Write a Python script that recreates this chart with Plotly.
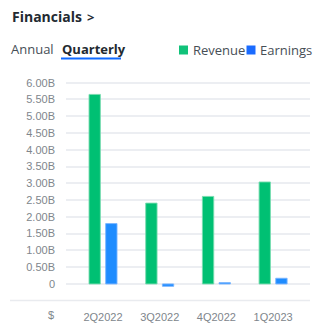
import plotly.graph_objects as go

quarters = ["2Q2022", "3Q2022", "4Q2022", "1Q2023"]
revenue_b = [5.65, 2.41, 2.61, 3.04]
earnings_b = [1.80, -0.07, 0.04, 0.17]
tick_vals = [0, 0.5, 1, 1.5, 2, 2.5, 3, 3.5, 4, 4.5, 5, 5.5, 6]
tick_text = ["0", "0.50B", "1.00B", "1.50B", "2.00B", "2.50B", "3.00B",
             "3.50B", "4.00B", "4.50B", "5.00B", "5.50B", "6.00B"]

GREEN = "#00c073"
BLUE = "#1e8cff"
LEG_GREEN = "#11c27a"
LEG_BLUE = "#1a6bff"

W, H = 323, 327
L, R, T, B = 66, 13, 80, 37
PW, PH = W - L - R, H - T - B


def px(x):
    return (x - L) / PW


def py(y):
    return (H - B - y) / PH


fig = go.Figure()
fig.add_trace(go.Bar(x=quarters, y=revenue_b, name="Revenue", width=0.2, offset=-0.247,
                     marker=dict(color=GREEN, line=dict(color="rgba(120,220,175,0.9)", width=1))))
fig.add_trace(go.Bar(x=quarters, y=earnings_b, name="Earnings", width=0.2, offset=0.047,
                     marker=dict(color=BLUE, line=dict(color="rgba(120,180,255,0.9)", width=1))))

FONT = "Open Sans"
TICKFONT = "Liberation Sans, Arial"

ann = []
ann.append(dict(text="<b>Financials</b>", x=px(9.5), y=py(17), xanchor="left", yanchor="middle",
                font=dict(family=FONT, size=14, color="#232a31")))
ann.append(dict(text="<b>></b>", x=px(85), y=py(17), xanchor="left", yanchor="middle",
                font=dict(family=FONT, size=13, color="#232a31")))
ann.append(dict(text="Annual", x=px(9), y=py(49), xanchor="left", yanchor="middle",
                font=dict(family=FONT, size=13, color="#464e56")))
ann.append(dict(text="<b>Quarterly</b>", x=px(60), y=py(49), xanchor="left", yanchor="middle",
                font=dict(family=FONT, size=13, color="#232a31")))
ann.append(dict(text="Revenue", x=px(191), y=py(50), xanchor="left", yanchor="middle",
                font=dict(family=FONT, size=13, color="#464e56")))
ann.append(dict(text="Earnings", x=px(258), y=py(50), xanchor="left", yanchor="middle",
                font=dict(family=FONT, size=13, color="#464e56")))
ann.append(dict(text="$", x=px(56), y=py(315), xanchor="right", yanchor="middle",
                font=dict(family=TICKFONT, size=11, color="#80868c")))
for a in ann:
    a.update(xref="paper", yref="paper", showarrow=False)

shapes = [
    dict(type="rect", xref="paper", yref="paper", x0=px(179), x1=px(188), y0=py(45.5), y1=py(54.5),
         fillcolor=LEG_GREEN, line=dict(width=0)),
    dict(type="rect", xref="paper", yref="paper", x0=px(246.5), x1=px(255.5), y0=py(45.5), y1=py(54.5),
         fillcolor=LEG_BLUE, line=dict(width=0)),
    dict(type="line", xref="paper", yref="paper", x0=px(61), x1=px(121), y0=py(58.5), y1=py(58.5),
         line=dict(color="#0f69ff", width=2)),
    dict(type="line", xref="paper", yref="paper", x0=px(10), x1=px(310), y0=py(300.5), y1=py(300.5),
         line=dict(color="#e9ebef", width=1.5)),
]

fig.update_layout(
    width=W, height=H,
    margin=dict(l=L, r=R, t=T, b=B, pad=0, autoexpand=False),
    paper_bgcolor="white", plot_bgcolor="white",
    barmode="overlay",
    showlegend=False,
    annotations=ann,
    shapes=shapes,
    xaxis=dict(range=[-0.653, 3.651], showgrid=False, zeroline=False, showline=False,
               ticks="", ticklabelstandoff=19, automargin=False,
               tickfont=dict(family=TICKFONT, size=11, color="#80868c")),
    yaxis=dict(range=[-0.18, 6.08], tickvals=tick_vals, ticktext=tick_text,
               showgrid=True, gridcolor="#eceef2", gridwidth=1.5,
               zeroline=True, zerolinecolor="#eceef2", zerolinewidth=1.5,
               showline=False, ticks="", ticklabelstandoff=10, automargin=False,
               tickfont=dict(family=TICKFONT, size=11, color="#80868c")),
)

fig.write_html("out.html", config=dict(displayModeBar=False))
